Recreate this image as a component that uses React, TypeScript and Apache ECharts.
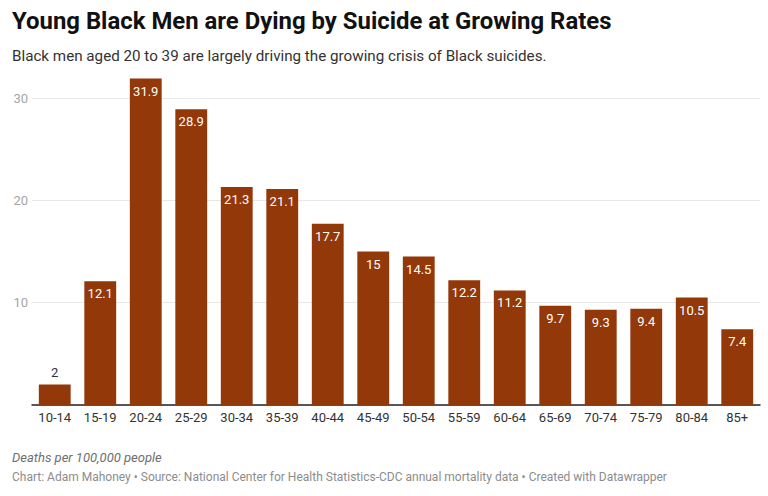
import React, { useEffect, useRef } from "react";
import * as echarts from "echarts";

const ageGroups = ["10-14", "15-19", "20-24", "25-29", "30-34", "35-39", "40-44", "45-49", "50-54", "55-59", "60-64", "65-69", "70-74", "75-79", "80-84", "85+"];
const suicideRates = [2, 12.1, 31.9, 28.9, 21.3, 21.1, 17.7, 15, 14.5, 12.2, 11.2, 9.7, 9.3, 9.4, 10.5, 7.4];
const yTicks = [0, 10, 20, 30];

const titleText = "Young Black Men are Dying by Suicide at Growing Rates";
const subtitleText = "Black men aged 20 to 39 are largely driving the growing crisis of Black suicides.";
const noteText = "Deaths per 100,000 people";
const sourceText = "Chart: Adam Mahoney • Source: National Center for Health Statistics-CDC annual mortality data • Created with Datawrapper";

const FONT = "Roboto, 'Noto Sans', sans-serif";
const BAR_COLOR = "#933808";

export default function App() {
  const ref = useRef<HTMLDivElement>(null);

  useEffect(() => {
    if (!ref.current) return;
    const chart = echarts.init(ref.current, null, { renderer: "svg" });

    const data = suicideRates.map((v) => {
      const small = v < 5;
      return {
        value: v,
        label: small
          ? { position: "top", color: "#333333", distance: 6 }
          : { position: "insideTop", color: "#ffffff", distance: 6 },
      };
    });

    chart.setOption({
      animation: false,
      textStyle: { fontFamily: FONT },
      graphic: [
        {
          type: "text",
          left: 12,
          top: 9,
          style: { text: titleText, font: `bold 23.9px ${FONT}`, fill: "#111111" },
        },
        {
          type: "text",
          left: 12,
          top: 48,
          style: { text: subtitleText, font: `15.2px ${FONT}`, fill: "#333333" },
        },
        {
          type: "text",
          left: 12,
          top: 451,
          style: { text: noteText, font: `italic 13px ${FONT}`, fill: "#6f6f6f" },
        },
        {
          type: "text",
          left: 12,
          top: 471,
          style: { text: sourceText, font: `12px ${FONT}`, fill: "#8c8c8c" },
        },
      ],
      grid: { left: 32, right: 8, top: 98, bottom: 91, containLabel: false },
      xAxis: {
        type: "category",
        data: ageGroups,
        axisLine: { show: true, lineStyle: { color: "#222222", width: 1.5 } },
        axisTick: { show: false },
        axisLabel: { color: "#333333", fontSize: 13, margin: 6, interval: 0, fontFamily: FONT },
      },
      yAxis: {
        type: "value",
        min: yTicks[0],
        max: yTicks[yTicks.length - 1],
        interval: 10,
        axisLine: { show: false },
        axisTick: { show: false },
        axisLabel: {
          color: "#a6a6a6",
          fontSize: 13,
          margin: 4,
          fontFamily: FONT,
          formatter: (v: number) => (v === 0 ? "" : String(v)),
        },
        splitLine: { lineStyle: { color: "#e8e8e8", width: 1 } },
      },
      series: [
        {
          type: "bar",
          data,
          clip: false,
          barCategoryGap: "30%",
          itemStyle: { color: BAR_COLOR },
          label: { show: true, fontSize: 13, fontFamily: FONT },
        },
      ],
    });

    return () => chart.dispose();
  }, []);

  return (
    <div
      ref={ref}
      style={{ position: "fixed", left: 0, top: 0, width: 768, height: 496, background: "#ffffff" }}
    />
  );
}
